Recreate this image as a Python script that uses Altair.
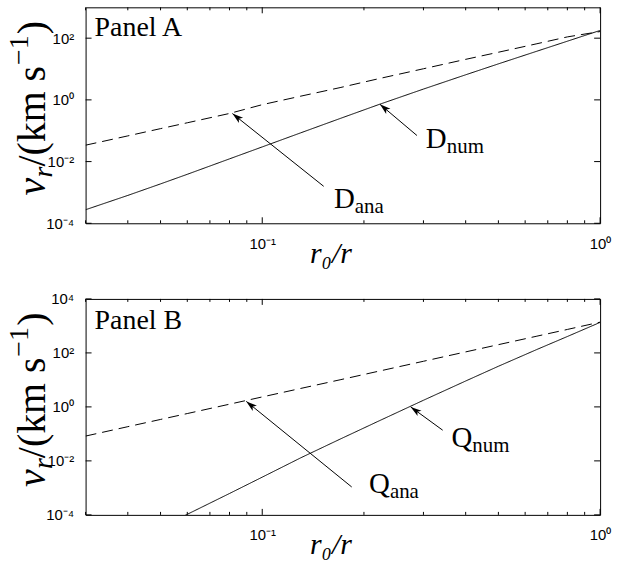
import math
import altair as alt
import pandas as pd

# ---------------- data ----------------
r_ratio = [0.03, 0.04, 0.05, 0.06, 0.08, 0.1, 0.13, 0.17, 0.22, 0.3, 0.4, 0.5, 0.65, 0.8, 1.0]
D_num = [2.75e-4, 8.0e-4, 1.89e-3, 3.87e-3, 0.01225, 0.0299, 0.0855, 0.249, 0.689, 2.24, 6.5, 14.7, 37.8, 79.8, 178]
D_ana = [0.034, 0.068, 0.117, 0.181, 0.363, 0.70, 1.32, 2.5, 4.8, 10.2, 20.6, 35, 66, 110, 164]
Q_r = [0.05, 0.06, 0.08, 0.1, 0.13, 0.17, 0.22, 0.3, 0.4, 0.5, 0.65, 0.8, 1.0]
Q_num = [3.3e-5, 1.05e-4, 6.2e-4, 2.5e-3, 0.013, 0.064, 0.29, 1.76, 9.1, 32, 134, 405, 1350]
Q_ana = [0.083, 0.185, 0.343, 0.567, 1.26, 2.34, 4.83, 10.1, 20.7, 49, 109, 202, 417, 740, 1380]

# annotation arrows: (tail x, tail y, tip x, tip y)
A_arrows = [(0.152, 1.58e-3, 0.0816, 0.36), (0.287, 0.070, 0.223, 0.72)]
B_arrows = [(0.184, 1.08e-3, 0.0897, 1.6), (0.342, 0.137, 0.275, 1.0)]
# labels: (x, y baseline, main, subscript)
A_labels = [(0.163, 3.07e-4, "D", "ana"), (0.305, 0.0271, "D", "num")]
B_labels = [(0.207, 6.5e-4, "Q", "ana"), (0.363, 0.0324, "Q", "num")]
A_panel = [(0.0319, 116, "Panel A")]
B_panel = [(0.0319, 794, "Panel B")]

x_major = [0.1, 1.0]
x_minor = [0.03, 0.04, 0.05, 0.06, 0.07, 0.08, 0.09, 0.2, 0.3, 0.4, 0.5, 0.6, 0.7, 0.8, 0.9]
A_yticks = [1e-4, 1e-2, 1, 1e2]
B_yticks = [1e-4, 1e-2, 1, 1e2, 1e4]

# y-axis title pieces: text, font size, style, offset along text, offset across
Y_TITLE = [("v", 40, "italic", 0, 0), ("r", 28, "italic", 18, 7),
           ("/(km s", 40, "normal", 29, 0), ("−1", 28, "normal", 131, -17),
           (")", 40, "normal", 162, 0)]

XDOM = [0.03, 1.0]
A_DOM = [1e-4, 1e3]
B_DOM = [1e-4, 1e4]

W, H = 517, 217
SERIF = "Liberation Serif"
SANS = "Liberation Sans"
HEAD = "M0,0L0.55,1.8L0,1.35L-0.55,1.8Z"


def to_px(xv, yv, ydom):
    lx0, lx1 = math.log10(XDOM[0]), math.log10(XDOM[1])
    ly0, ly1 = math.log10(ydom[0]), math.log10(ydom[1])
    fx = (math.log10(xv) - lx0) / (lx1 - lx0) * W
    fy = H - (math.log10(yv) - ly0) / (ly1 - ly0) * H
    return fx, fy


def panel(xs_, num, ana, arrows, labels, plab, ydom, yticks):
    xs = alt.Scale(type="log", domain=XDOM, nice=False)
    ys = alt.Scale(type="log", domain=ydom, nice=False)

    lab_expr = ("datum.value < 0.001 ? '10⁻⁴' : datum.value < 0.1 ? '10⁻²' : "
                "datum.value < 10 ? '10⁰' : datum.value < 1000 ? '10²' : '10⁴'")
    xax = alt.Axis(values=x_major, labelExpr="datum.value < 0.5 ? '10⁻¹' : '10⁰'", title="r₀/r")
    yax = alt.Axis(values=yticks, labelExpr=lab_expr, title=None)

    def X(f):
        return alt.X(f, scale=xs, axis=xax)

    def Y(f):
        return alt.Y(f, scale=ys, axis=yax)

    rows = []
    for xv, yv in zip(xs_[-len(num):], num):
        rows.append({"x": xv, "y": yv, "s": "num"})
    for xv, yv in zip(r_ratio, ana):
        rows.append({"x": xv, "y": yv, "s": "ana"})
    curves = pd.DataFrame(rows)

    lines = alt.Chart(curves).mark_line(color="black", strokeWidth=1, clip=True).encode(
        x=X("x:Q"), y=Y("y:Q"),
        strokeDash=alt.StrokeDash("s:N", scale=alt.Scale(domain=["num", "ana"], range=[[1, 0], [11, 6]]),
                                  legend=None),
    )

    tick_rule = alt.Chart(pd.DataFrame({"v": yticks})).mark_rule(color="black", strokeWidth=1)
    yl = tick_rule.encode(y=Y("v:Q"), x=alt.value(0), x2=alt.value(6))
    yr = tick_rule.encode(y=Y("v:Q"), x=alt.value(W - 6), x2=alt.value(W))
    xmaj = alt.Chart(pd.DataFrame({"v": x_major})).mark_rule(color="black", strokeWidth=1)
    xb = xmaj.encode(x=X("v:Q"), y=alt.value(H - 6), y2=alt.value(H))
    xt = xmaj.encode(x=X("v:Q"), y=alt.value(0), y2=alt.value(6))
    xmin_ = alt.Chart(pd.DataFrame({"v": x_minor})).mark_rule(color="black", strokeWidth=1)
    xbm = xmin_.encode(x=X("v:Q"), y=alt.value(H - 3), y2=alt.value(H))
    xtm = xmin_.encode(x=X("v:Q"), y=alt.value(0), y2=alt.value(3))

    arr_rows = []
    for tx, ty, hx, hy in arrows:
        p0 = to_px(tx, ty, ydom)
        p1 = to_px(hx, hy, ydom)
        dx, dy = p1[0] - p0[0], p1[1] - p0[1]
        ang = math.degrees(math.atan2(dx, -dy)) % 360
        arr_rows.append({"tx": tx, "ty": ty, "hx": hx, "hy": hy, "ang": ang})
    arr = pd.DataFrame(arr_rows)
    shaft = alt.Chart(arr).mark_rule(color="black", strokeWidth=1).encode(
        x=X("tx:Q"), y=Y("ty:Q"), x2="hx:Q", y2="hy:Q")
    head = alt.Chart(arr).mark_point(shape=HEAD, filled=True, size=150, color="black",
                                     opacity=1, strokeWidth=0).encode(
        x=X("hx:Q"), y=Y("hy:Q"), angle=alt.Angle("ang:Q", scale=None))

    lab = pd.DataFrame(labels, columns=["x", "y", "m", "s"])
    main_t = alt.Chart(lab).mark_text(align="left", baseline="alphabetic", font=SERIF,
                                      fontSize=29, color="black").encode(
        x=X("x:Q"), y=Y("y:Q"), text="m:N")
    sub_t = alt.Chart(lab).mark_text(align="left", baseline="alphabetic", font=SERIF,
                                     fontSize=21, color="black", dx=21, dy=5).encode(
        x=X("x:Q"), y=Y("y:Q"), text="s:N")

    pl = pd.DataFrame(plab, columns=["x", "y", "t"])
    ptxt = alt.Chart(pl).mark_text(align="left", baseline="alphabetic", font=SERIF,
                                   fontSize=28, color="black").encode(
        x=X("x:Q"), y=Y("y:Q"), text="t:N")

    ytitle = []
    for txt, fs, st, ddx, ddy in Y_TITLE:
        ytitle.append(
            alt.Chart(pd.DataFrame({"t": [txt]})).mark_text(
                align="left", baseline="alphabetic", angle=270, font=SERIF, fontSize=fs,
                fontStyle=st, color="black", dx=ddx, dy=ddy
            ).encode(text="t:N", x=alt.value(-41), y=alt.value(189))
        )

    return alt.layer(lines, yl, yr, xb, xt, xbm, xtm, shaft, head, main_t, sub_t, ptxt,
                     *ytitle).properties(width=W, height=H)


pA = panel(r_ratio, D_num, D_ana, A_arrows, A_labels, A_panel, A_DOM, A_yticks)
pB = panel(Q_r, Q_num, Q_ana, B_arrows, B_labels, B_panel, B_DOM, B_yticks)

chart = (
    alt.vconcat(pA, pB, spacing=76, bounds="flush")
    .properties(padding={"left": 5, "top": 5, "right": 10, "bottom": 2})
    .configure_view(stroke="black", strokeWidth=1)
    .configure_axis(labelFont=SANS, labelFontSize=15, labelColor="black",
                    labelFlush=False, labelOverlap=False, ticks=False, domain=False, grid=False,
                    titleColor="black", titleFontWeight="normal", titleFont=SERIF)
    .configure_axisX(labelPadding=13, titleFontSize=30, titleFontStyle="italic", titlePadding=-13,
                     titleX=246)
    .configure_axisY(labelPadding=12)
)

chart.save("out.html", embed_options={"renderer": "svg", "actions": False})
